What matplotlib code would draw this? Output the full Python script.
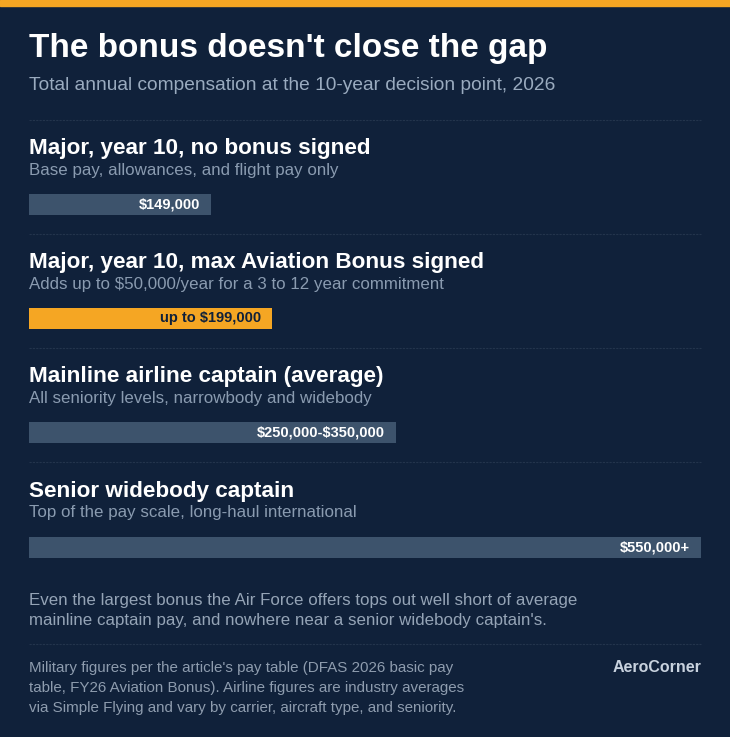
import matplotlib
matplotlib.use("Agg")
import matplotlib.pyplot as plt
plt.rcParams["text.parse_math"] = False

headings = ["Major, year 10, no bonus signed", "Major, year 10, max Aviation Bonus signed",
            "Mainline airline captain (average)", "Senior widebody captain"]
subheads = ["Base pay, allowances, and flight pay only", "Adds up to $50,000/year for a 3 to 12 year commitment",
            "All seniority levels, narrowbody and widebody", "Top of the pay scale, long-haul international"]
values = [149000, 199000, 300000, 550000]
labels = ["$149,000", "up to $199,000", "$250,000-$350,000", "$550,000+"]

BG = "#10213a"; BAR = "#3d536c"; ORANGE = "#f5a623"
W, H = 730, 737
fig = plt.figure(figsize=(W/100, H/100), dpi=100, facecolor=BG)
bg = fig.add_axes([0, 0, 1, 1]); bg.set_xlim(0, W); bg.set_ylim(H, 0); bg.axis("off")
bg.add_patch(plt.Rectangle((0, 0), W, 6, color=ORANGE))
F = "Liberation Sans"
bg.text(29, 48, "The bonus doesn't close the gap", color="white", fontsize=24, weight="bold", va="center", family=F)
bg.text(29, 85, "Total annual compensation at the 10-year decision point, 2026", color="#9aabbf", fontsize=13.8, va="center", family=F)
for y in [120, 234, 348, 462, 644]:
    bg.plot([29, 701], [y, y], color="#23344c", lw=0.8, ls=(0, (2, 1)))

ax = fig.add_axes([29/W, 0, 672/W, 1]); ax.set_xlim(0, 550000); ax.set_ylim(H, 0); ax.axis("off")
ys = [204, 318, 432, 547]
for i, (h, s, v, l) in enumerate(zip(headings, subheads, values, labels)):
    y = ys[i]
    bg.text(29, y - 56, h, color="white", fontsize=16.2, weight="bold", va="center", family=F)
    bg.text(29, y - 34, s, color="#8a9bb0", fontsize=12.2, va="center", family=F)
    c = ORANGE if i == 1 else BAR
    ax.barh(y, v, height=21, color=c)
    ax.text(v - 9000, y, l, color="#10213a" if i == 1 else "white", fontsize=10.5, weight="bold",
            ha="right", va="center", family=F)

bg.text(29, 600, "Even the largest bonus the Air Force offers tops out well short of average", color="#95a4b6", fontsize=12.2, va="center", family=F)
bg.text(29, 621, "mainline captain pay, and nowhere near a senior widebody captain's.", color="#95a4b6", fontsize=12.2, va="center", family=F)
for j, t in enumerate(["Military figures per the article's pay table (DFAS 2026 basic pay",
                       "table, FY26 Aviation Bonus). Airline figures are industry averages",
                       "via Simple Flying and vary by carrier, aircraft type, and seniority."]):
    bg.text(29, 668 + j*20, t, color="#8e9cae", fontsize=10.9, va="center", family=F)
bg.text(701, 668, "AeroCorner", color="#c8d2de", fontsize=11.5, weight="bold", ha="right", va="center", family=F)
fig.savefig("out.png", dpi=100, facecolor=BG)
